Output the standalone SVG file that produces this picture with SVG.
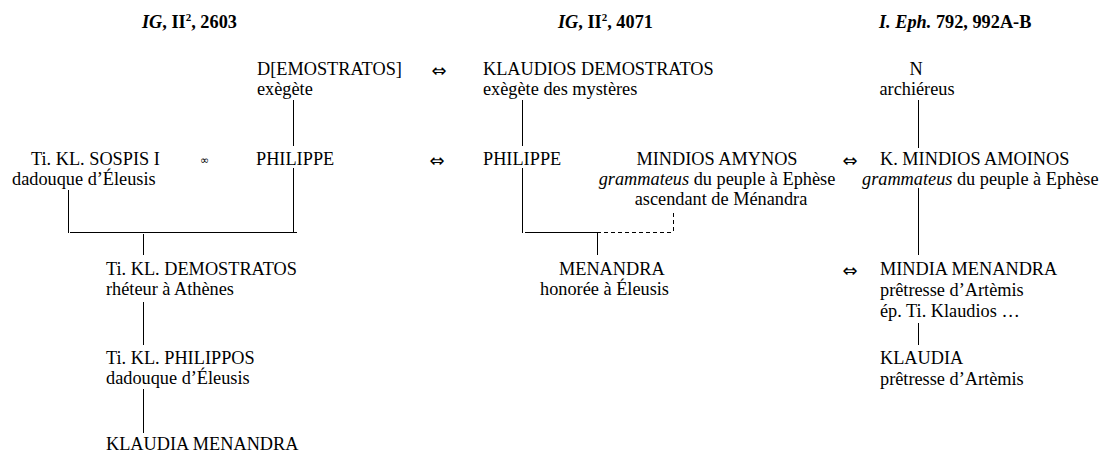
<svg xmlns="http://www.w3.org/2000/svg" width="1102" height="452" viewBox="0 0 1102 452">
<style>
text{font-family:"Liberation Serif","Times New Roman",serif;font-size:18.3px;fill:#000}
.h{font-weight:bold}
.i{font-style:italic}
.sup{font-size:11px}
.arr{font-family:"DejaVu Sans",sans-serif;font-size:18px}
.inf{font-family:"DejaVu Sans",sans-serif;font-size:11px}
.ln{stroke:#000;stroke-width:1;fill:none}
.dash{stroke:#000;stroke-width:1;fill:none;stroke-dasharray:4 3}
</style>
<rect width="1102" height="452" fill="#fff"/>
<g id="headings">
<text class="h" x="142" y="28"><tspan class="i">IG</tspan>, II<tspan class="sup" dy="-7">2</tspan><tspan dy="7">, 2603</tspan></text>
<text class="h" x="558" y="28"><tspan class="i">IG</tspan>, II<tspan class="sup" dy="-7">2</tspan><tspan dy="7">, 4071</tspan></text>
<text class="h" x="879" y="28"><tspan class="i">I. Eph.</tspan> 792, 992A-B</text>
</g>
<g id="connectors">
<line class="ln" x1="293.5" y1="100" x2="293.5" y2="146"/>
<line class="ln" x1="293.5" y1="168" x2="293.5" y2="233"/>
<line class="ln" x1="68.5" y1="190" x2="68.5" y2="233"/>
<line class="ln" x1="70" y1="232.5" x2="297" y2="232.5"/>
<line class="ln" x1="143.5" y1="234" x2="143.5" y2="255"/>
<line class="ln" x1="143.5" y1="302" x2="143.5" y2="345"/>
<line class="ln" x1="143.5" y1="389" x2="143.5" y2="433"/>
<line class="ln" x1="522.5" y1="100" x2="522.5" y2="146"/>
<line class="ln" x1="522.5" y1="168" x2="522.5" y2="233"/>
<line class="ln" x1="525" y1="232.5" x2="597" y2="232.5"/>
<line class="dash" x1="597" y1="232.5" x2="673" y2="232.5"/>
<line class="dash" x1="673.5" y1="213" x2="673.5" y2="232"/>
<line class="ln" x1="597.5" y1="233" x2="597.5" y2="255"/>
<line class="ln" x1="918.5" y1="100" x2="918.5" y2="148"/>
<line class="ln" x1="918.5" y1="188" x2="918.5" y2="255"/>
<line class="ln" x1="918.5" y1="323" x2="918.5" y2="345"/>
<text class="arr" x="439" y="77" text-anchor="middle">⇔</text>
<text class="arr" x="437" y="167" text-anchor="middle">⇔</text>
<text class="arr" x="850" y="167" text-anchor="middle">⇔</text>
<text class="arr" x="850" y="277" text-anchor="middle">⇔</text>
<text class="inf" x="204.5" y="164" text-anchor="middle">∞</text>
</g>
<g id="demostratos1"><text x="257" y="75">D[EMOSTRATOS]</text><text x="257" y="95">exègète</text></g>
<g id="klaudios-demostratos"><text x="483" y="75">KLAUDIOS DEMOSTRATOS</text><text x="483" y="95">exègète des mystères</text></g>
<g id="n-archiereus"><text x="916" y="75" text-anchor="middle">N</text><text x="917" y="95" text-anchor="middle">archiéreus</text></g>
<g id="sospis"><text x="31" y="165">Ti. KL. SOSPIS I</text><text x="12" y="185">dadouque d’Éleusis</text></g>
<g id="philippe1"><text x="256" y="165">PHILIPPE</text></g>
<g id="philippe2"><text x="483" y="165">PHILIPPE</text></g>
<g id="mindios-amynos"><text x="717" y="165" text-anchor="middle">MINDIOS AMYNOS</text><text x="717" y="185" text-anchor="middle"><tspan class="i">grammateus</tspan> du peuple à Ephèse</text><text x="721" y="205" text-anchor="middle">ascendant de Ménandra</text></g>
<g id="mindios-amoinos"><text x="880" y="165">K. MINDIOS AMOINOS</text><text x="862" y="185"><tspan class="i">grammateus</tspan> du peuple à Ephèse</text></g>
<g id="demostratos2"><text x="106" y="275">Ti. KL. DEMOSTRATOS</text><text x="106" y="295">rhéteur à Athènes</text></g>
<g id="menandra"><text x="559" y="275">MENANDRA</text><text x="540" y="295">honorée à Éleusis</text></g>
<g id="mindia-menandra"><text x="880" y="275">MINDIA MENANDRA</text><text x="880" y="296">prêtresse d’Artèmis</text><text x="880" y="317">ép. Ti. Klaudios …</text></g>
<g id="philippos"><text x="106" y="364">Ti. KL. PHILIPPOS</text><text x="106" y="384">dadouque d’Éleusis</text></g>
<g id="klaudia"><text x="880" y="364">KLAUDIA</text><text x="880" y="385">prêtresse d’Artèmis</text></g>
<g id="klaudia-menandra"><text x="106" y="450">KLAUDIA MENANDRA</text></g>
</svg>
